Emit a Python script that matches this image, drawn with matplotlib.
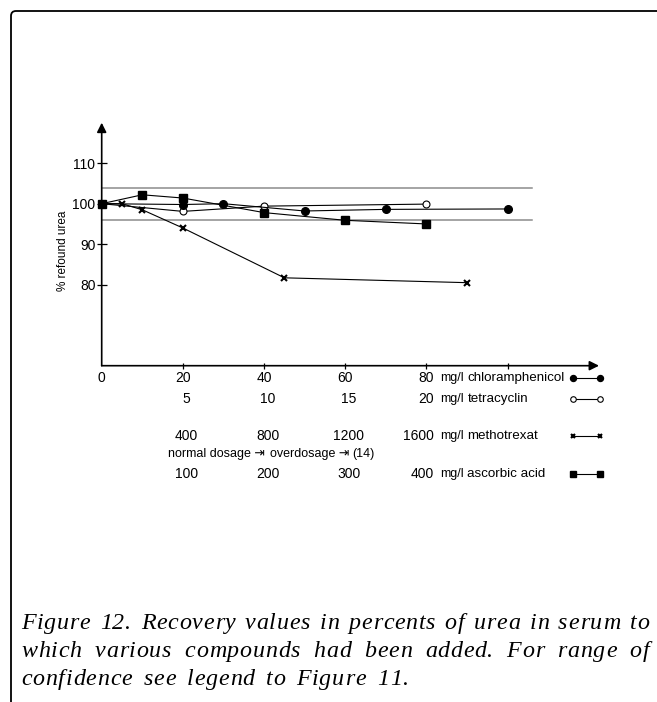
import matplotlib.pyplot as plt
from matplotlib.patches import FancyBboxPatch
from matplotlib.transforms import IdentityTransform

plt.rcParams['font.family'] = ['Liberation Sans', 'DejaVu Sans']

# recovery (% refound urea) against added amount, mg/l of each compound
chloramphenicol_x = [0, 20, 30, 50, 70, 100]
chloramphenicol_y = [100, 99.8, 100, 98.2, 98.6, 98.7]
tetracyclin_x = [0, 5, 10, 20]
tetracyclin_y = [100, 98.1, 99.4, 99.9]
methotrexat_x = [0, 100, 200, 400, 900, 1800]
methotrexat_y = [100, 100, 98.5, 94, 81.7, 80.5]
ascorbic_x = [0, 50, 100, 200, 300, 400]
ascorbic_y = [100, 102.2, 101.4, 97.8, 95.9, 95]

confidence = [96, 104]
yticks = [80, 90, 100, 110]
xticks = [20, 40, 60, 80, 100]

chloramphenicol_ticks = [0, 20, 40, 60, 80]
tetracyclin_ticks = [5, 10, 15, 20]
methotrexat_ticks = [400, 800, 1200, 1600]
ascorbic_ticks = [100, 200, 300, 400]

caption = ["Figure 12. Recovery values in percents of urea in serum to",
           "which various compounds had been added. For range of",
           "confidence see legend to Figure 11."]

# common x axis is chloramphenicol mg/l, the other compounds are rescaled onto it
scale = {'chloramphenicol': 1.0, 'tetracyclin': 4.0, 'methotrexat': 1 / 20, 'ascorbic acid': 1 / 5}

W, H = 657, 702
fig = plt.figure(figsize=(W / 100, H / 100), dpi=100)


def pxbox(x0, y0, x1, y1):
    return [x0 / W, 1 - y1 / H, (x1 - x0) / W, (y1 - y0) / H]


ax = fig.add_axes(pxbox(101.7, 122.7, 599, 365.7))
ax.set_xlim(0, 122.5)
ax.set_ylim(60, 120)
for s in ax.spines.values():
    s.set_visible(False)

# axes with arrow heads
arrow = dict(arrowstyle='-|>', color='k', lw=1.2, mutation_scale=14, shrinkA=0, shrinkB=0)
ax.annotate('', xy=(0, 120), xytext=(0, 60), arrowprops=arrow, annotation_clip=False)
ax.annotate('', xy=(122.5, 60), xytext=(0, 60), arrowprops=arrow, annotation_clip=False)

ax.set_yticks(yticks)
ax.set_yticklabels([str(v) for v in yticks])
ax.set_xticks(xticks)
ax.set_xticklabels([])
ax.tick_params(axis='y', direction='inout', length=7, width=0.9, labelsize=10, pad=1)
ax.tick_params(axis='x', direction='inout', length=5, width=0.9)

# range of confidence
for c in confidence:
    ax.plot([0, 105.9], [c, c], color='#8c8c8c', lw=1.1, zorder=1)

line = dict(color='k', lw=0.8, clip_on=False)
st_chl = dict(marker='o', ms=5.5, mfc='k', mec='k')
st_tet = dict(marker='o', ms=5, mfc='white', mec='k', mew=0.8)
st_met = dict(marker='x', ms=4.5, mec='k', mew=1.5)
st_asc = dict(marker='s', ms=5.5, mfc='k', mec='k')

ax.plot([v * scale['methotrexat'] for v in methotrexat_x], methotrexat_y, **line, **st_met, zorder=3)
ax.plot([v * scale['tetracyclin'] for v in tetracyclin_x], tetracyclin_y, **line, **st_tet, zorder=4)
ax.plot([v * scale['ascorbic acid'] for v in ascorbic_x], ascorbic_y, **line, **st_asc, zorder=5)
ax.plot([v * scale['chloramphenicol'] for v in chloramphenicol_x], chloramphenicol_y, **line, **st_chl, zorder=6)

# scale rows under the x axis
rows = [
    ('chloramphenicol', chloramphenicol_ticks, 56.9, 0.0, dict(st_chl, ms=4.3)),
    ('tetracyclin', tetracyclin_ticks, 51.9, 0.9, dict(st_tet, ms=4)),
    ('methotrexat', methotrexat_ticks, 42.6, 0.9, dict(st_met, ms=3.5)),
    ('ascorbic acid', ascorbic_ticks, 33.2, 0.9, dict(st_asc, ms=4.5)),
]
for name, ticks, y, off, st in rows:
    f = scale[name]
    for v in ticks[:-1]:
        ax.text(v * f + off, y, str(v), ha='center', va='center', fontsize=10)
    ax.text(81.8, y, str(ticks[-1]), ha='right', va='center', fontsize=10)
    ax.text(83.3, y, 'mg/l', ha='left', va='center', fontsize=9)
    ax.text(90.1, y, name, ha='left', va='center', fontsize=9.6)
    ax.plot([116.2, 122.7], [y, y], **line, **st)

ax.text(16.3, 38.1, 'normal dosage \u21e5', ha='left', va='center', fontsize=9)
ax.text(41.5, 38.1, 'overdosage \u21e5', ha='left', va='center', fontsize=9)
ax.text(61.7, 38.1, '(14)', ha='left', va='center', fontsize=9)

fig.text(63 / W, 1 - 251 / H, '% refound urea', rotation=90, ha='center', va='center', fontsize=8.5)

# frame, open at the right and bottom
frame = FancyBboxPatch((11, -60), 720, H - 11 + 60, boxstyle='round,pad=0,rounding_size=5',
                       transform=IdentityTransform(), fc='none', ec='k', lw=1.3)
fig.add_artist(frame)

# italic caption, slightly letter spaced, first two lines justified
renderer = fig.canvas.get_renderer()
cap_font = dict(family='Liberation Serif', style='italic', fontsize=17.3)


def width(s):
    t = fig.text(0, 0, s, **cap_font)
    w = t.get_window_extent(renderer).width
    t.remove()
    return w


adv_H = width('HH') - width('H')
metrics = {}
for ch in set(''.join(caption)):
    if ch == ' ':
        metrics[ch] = (width('H H') - width('HH'), 0.0)
    else:
        adv = width('H' + ch + 'H') - width('HH')
        off = width('H' + ch) - width(ch) - adv_H
        metrics[ch] = (adv, off)

x_left, x_right = 21, 649
baselines = [629, 657, 685]
track = 0.8


def natural(txt):
    n = sum(metrics[ch][0] for ch in txt[:-1]) + width(txt[-1]) + metrics[txt[-1]][1]
    return n + track * (len(txt) - 1)


extras = []
for txt in caption[:-1]:
    extras.append((x_right - x_left - natural(txt)) / txt.count(' '))
extras.append(sum(extras) / len(extras))

for txt, yb, extra in zip(caption, baselines, extras):
    x = x_left
    for ch in txt:
        adv, off = metrics[ch]
        if ch != ' ':
            fig.text((x + off) / W, 1 - yb / H, ch, va='baseline', ha='left', **cap_font)
        x += adv + track + (extra if ch == ' ' else 0.0)

fig.savefig('out.png', dpi=100)
